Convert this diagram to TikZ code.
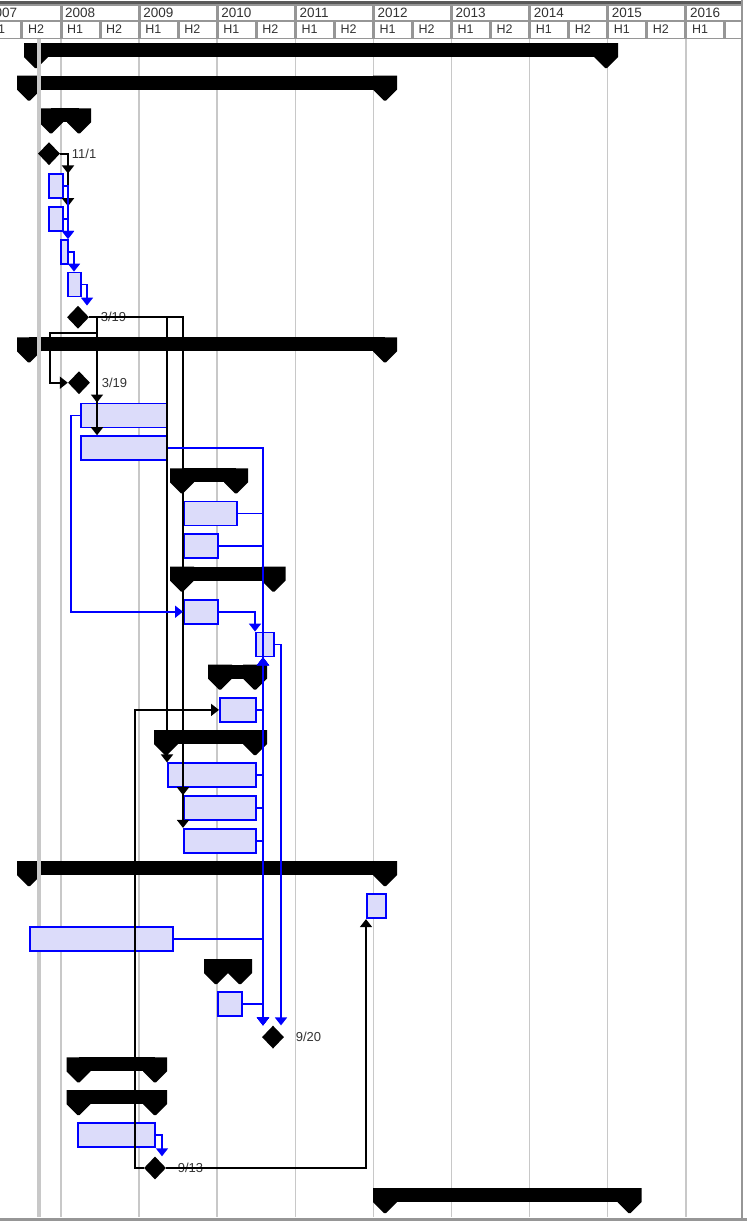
\documentclass[tikz,border=0pt]{standalone}
\usepackage{fontspec}
\setmainfont{Liberation Sans}
\usetikzlibrary{arrows.meta,calc,positioning,shapes.geometric}
\definecolor{TaskBlue}{RGB}{0,0,255}
\definecolor{TaskFill}{RGB}{220,220,250}
\definecolor{GridGrey}{RGB}{200,200,200}
\definecolor{FrameGrey}{RGB}{150,150,150}
\newcommand{\rowy}[1]{55.5+32.72*#1}

\begin{document}
\begin{tikzpicture}[x=1pt, y=-1pt, >={Triangle[length=8pt, width=12pt]}]
    \tikzstyle{task}=[draw=TaskBlue, line width=1.8pt, fill=TaskFill, minimum height=24pt, inner sep=0pt, anchor=west]
    \tikzstyle{milestone}=[diamond, fill=black, minimum width=22pt, minimum height=23pt, inner sep=0pt]
    \tikzstyle{mslabel}=[font=\fontsize{13}{14}\selectfont, text=black!80, inner sep=0.5pt]
    \tikzstyle{link}=[->, draw=TaskBlue, line width=1.8pt]
    \tikzstyle{dep}=[->, draw=black, line width=1.8pt]
    \tikzstyle{cell}=[fill=white]
    \tikzstyle{hdr}=[anchor=west, inner sep=0pt, text=black!80]

    \useasboundingbox (0,0) rectangle (747,1221);
    \clip (0,0) rectangle (747,1221);

    % timescale
    \begin{scope}
        \clip (0,0) rectangle (741,1221);
        \fill[FrameGrey] (0,4) rectangle (742,39);
        \foreach \yr in {2007,...,2016} {
            \pgfmathsetmacro\xa{61+78.1*(\yr-2008)}
            \fill[cell] (\xa+1.5,5.5) rectangle (\xa+76.6,19.5);
            \node[hdr, font=\fontsize{13.5}{14}\selectfont] (yr\yr) at (\xa+4,12.5) {\yr};
            \fill[cell] (\xa+1.5,22) rectangle (\xa+37.5,37.5);
            \fill[cell] (\xa+40.5,22) rectangle (\xa+76.6,37.5);
            \node[hdr, font=\fontsize{12.5}{13}\selectfont] (hA\yr) at (\xa+6,29.5) {H1};
            \ifnum\yr<2016
                \node[hdr, font=\fontsize{12.5}{13}\selectfont] (hB\yr) at (\xa+45,29.5) {H2};
            \fi
        }
    \end{scope}
    \draw[black!65, line width=2.5pt] (0,2.5) -- (741,2.5);

    % grid
    \foreach \k in {0,...,8}
        \draw[GridGrey, line width=1.5pt] (61+78.1*\k,39) -- (61+78.1*\k,1217);

    % summary bars
    \foreach \r/\a/\b in {0/36/606, 1/29/385, 2/51/79, 9/29/385, 13/182/236, 16/182/273.5,
                          19/220/255, 21/166/255, 25/29/385, 28/216/240, 31/78.5/155,
                          32/78.5/155, 35/385/629.5} {
        \pgfmathsetmacro\t{43+32.72*\r}
        \fill (\a,\t) rectangle (\b,\t+14);
        \foreach \c in {\a,\b}
            \fill (\c-12,\t) -- (\c+12,\t) -- (\c+12,\t+14) -- (\c+1,\t+25)
                -- (\c-1,\t+25) -- (\c-12,\t+14) -- cycle;
    }

    % status date
    \draw[GridGrey, line width=3.5pt] (38.8,39) -- (38.8,1217);

    % tasks
    \foreach \n/\x/\w in {4/48/14, 5/48/14, 6/60/7, 7/67/13, 11/80/86, 12/80/86,
                          14/183/53, 15/183/34, 17/183/34, 18/255/18, 20/219/36,
                          22/167/88, 23/183/72, 24/183/72, 26/366/19, 27/29/143,
                          29/217/24, 33/77/77}
        \node[task, minimum width=\w pt] (task\n) at (\x,\rowy{\n}) {};

    % milestones
    \node[milestone] (ms111) at (49,\rowy{3}) {};
    \node[mslabel, right=11pt of ms111] (lbl111) {11/1};
    \node[milestone] (ms319) at (78,\rowy{8}) {};
    \node[mslabel, right=11pt of ms319] (lbl319) {3/19};
    \node[milestone] (ms319b) at (79,\rowy{10}) {};
    \node[mslabel, right=11pt of ms319b] (lbl319b) {3/19};
    \node[milestone] (ms920) at (273,\rowy{30}) {};
    \node[mslabel, right=11pt of ms920] (lbl920) {9/20};
    \node[milestone] (ms913) at (155,\rowy{34}) {};
    \node[mslabel, right=11pt of ms913] (lbl913) {9/13};

    % black links
    \draw[dep] (ms111.east) -| (68,0 |- task4.north);
    \draw[dep] (ms111.east) -| (68,0 |- task5.north);
    \draw[dep] (ms319.east) -| (97,333) -| (50,0 |- ms319b.west) -- (ms319b.west);
    \draw[dep] (ms319.east) -| (97,0 |- task11.north);
    \draw[dep] (ms319.east) -| (97,0 |- task12.north);
    \draw[dep] (ms319.east) -| (task22.north west);
    \draw[dep] (ms319.east) -| (task23.north west);
    \draw[dep] (ms319.east) -| (task24.north west);
    \draw[dep] (ms913.west) -- (135,0 |- ms913.west) |- (task20.west);
    \draw[dep] (ms913.east) -| (task26.south west);

    % blue links
    \draw[link] (task4.east) -| (68,0 |- task6.north);
    \draw[link] (task5.east) -| (68,0 |- task6.north);
    \draw[link] (task6.east) -| (74,0 |- task7.north);
    \draw[link] (task7.east) -| (87,0 |- ms319.north);
    \draw[link] (task11.west) -- ++(-9,0) |- (task17.west);
    \foreach \n in {12,14,15,27,29}
        \draw[link] (task\n.east) -| (263,0 |- ms920.north);
    \foreach \n in {20,22,23,24}
        \draw[link] (task\n.east) -| (263,0 |- task18.south);
    \draw[link] (task17.east) -| (task18.north west);
    \draw[link] (task18.east) -| (281,0 |- ms920.north);
    \draw[link] (task33.east) -| (162,0 |- ms913.north);

    % frame
    \draw[FrameGrey, line width=2pt] (741.5,0) -- (741.5,1218);
    \draw[FrameGrey, line width=3pt] (0,1219.5) -- (747,1219.5);
\end{tikzpicture}
\end{document}
